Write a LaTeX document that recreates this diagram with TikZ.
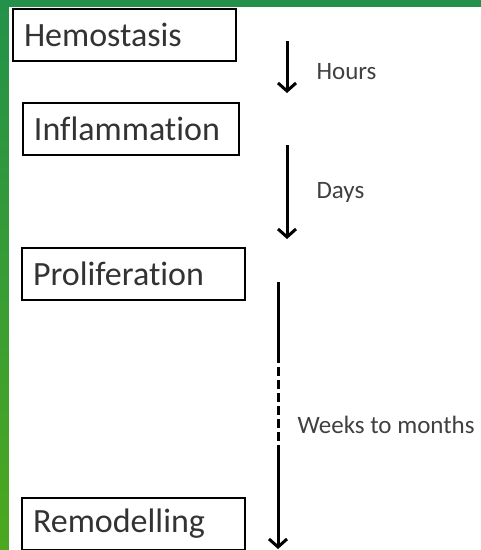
\documentclass[tikz,border=0pt]{standalone}
\usepackage{fontspec}
\setmainfont{Carlito}[Ligatures=NoCommon]
\usetikzlibrary{arrows.meta, positioning}
\definecolor{bartop}{HTML}{23914A}
\definecolor{barbot}{HTML}{4CA81F}
\tikzset{
    phase/.style={rectangle, draw, line width=2pt, minimum height=52pt, inner xsep=11pt, anchor=north west, align=left, text=black!80, font=\fontsize{34}{37}\selectfont},
    time/.style={font=\fontsize{25}{29}\selectfont, text=black!75, anchor=west},
    arrow/.style={-{Straight Barb[length=8pt, width=18pt]}, line width=3pt},
}

\begin{document}
\begin{tikzpicture}[x=1pt, y=-1pt]
    % frame
    \useasboundingbox (0,0) rectangle (481,550);
    \shade[top color=bartop, bottom color=barbot] (0,0) rectangle (481,550);
    \fill[white] (9,7) rectangle (481,550);
    % phases
    \node[phase, text width=201pt] (hemo) at (12,8) {Hemostasis};
    \node[phase, text width=194pt] (infl) at (22,102) {Inflammation};
    \node[phase, text width=201pt] (prol) at (21,247) {Proliferation};
    \node[phase, text width=201pt] (remo) at (21,497) {Remodelling};
    % time arrows
    \coordinate (h1) at (287,41);
    \coordinate (h2) at (287,93);
    \coordinate (d1) at (287,145);
    \coordinate (d2) at (287,239);
    \coordinate (w1) at (278,282);
    \coordinate (w2) at (278,362);
    \coordinate (w3) at (278,454);
    \coordinate (w4) at (278,549);
    \draw[arrow] (h1) -- (h2);
    \draw[arrow] (d1) -- (d2);
    \draw[line width=3pt] (w1) -- (w2);
    \draw[line width=3pt, dash pattern=on 9pt off 4pt] ([yshift=8pt]w2) -- (w3);
    \draw[arrow] (w3) -- (w4);
    \node[time] (hours) at (313,72) {Hours};
    \node[time] (days) at (313,192) {Days};
    \node[time] (weeks) at (294,425) {Weeks to months};
\end{tikzpicture}
\end{document}
